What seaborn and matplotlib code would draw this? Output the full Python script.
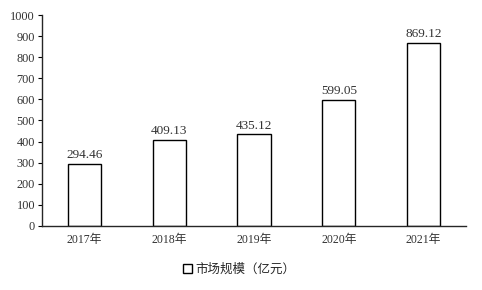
import matplotlib
matplotlib.use("Agg")
import matplotlib.pyplot as plt
import seaborn as sns
import pandas as pd
from matplotlib.patches import Patch

years = ["2017年", "2018年", "2019年", "2020年", "2021年"]
values = [294.46, 409.13, 435.12, 599.05, 869.12]
series_name = "市场规模（亿元）"

sns.set_style("ticks")
plt.rcParams['font.family'] = ['Liberation Serif', 'Noto Sans CJK SC', 'DejaVu Sans']

df = pd.DataFrame({"year": years, "value": values, "series": series_name})

fig = plt.figure(figsize=(4.82, 2.90), dpi=100)
ax = fig.add_axes([0.087, 0.221, 0.88, 0.727])
sns.barplot(data=df, x="year", y="value", hue="series", ax=ax, width=0.39,
            palette=["white"], edgecolor="black", linewidth=1.0, legend=False)

for i, v in enumerate(values):
    ax.text(i, v + 12, f"{v:.2f}", ha="center", va="bottom", fontsize=9.5,
            color="#333333")

ax.set_xlim(-0.5, 4.5)
ax.set_ylim(0, 1000)
ax.set_yticks(range(0, 1001, 100))
ax.set_xlabel("")
ax.set_ylabel("")
for s in ["top", "right"]:
    ax.spines[s].set_visible(False)
ax.spines["left"].set_linewidth(1.0)
ax.spines["bottom"].set_linewidth(1.0)
ax.tick_params(axis="x", length=0, labelsize=8.5, pad=6, colors="#333333")
ax.tick_params(axis="y", length=3, labelsize=8.8, pad=2, colors="#333333")
ax.tick_params(axis="both", color="black")

handle = Patch(facecolor="white", edgecolor="black", linewidth=1.0)
fig.legend([handle], [series_name], loc="center", bbox_to_anchor=(0.497, 0.07),
           frameon=False, handlelength=0.7, handleheight=0.7,
           handletextpad=0.3, prop={"family": ["Noto Sans CJK SC"], "size": 9})

fig.savefig("out.png", dpi=100)
